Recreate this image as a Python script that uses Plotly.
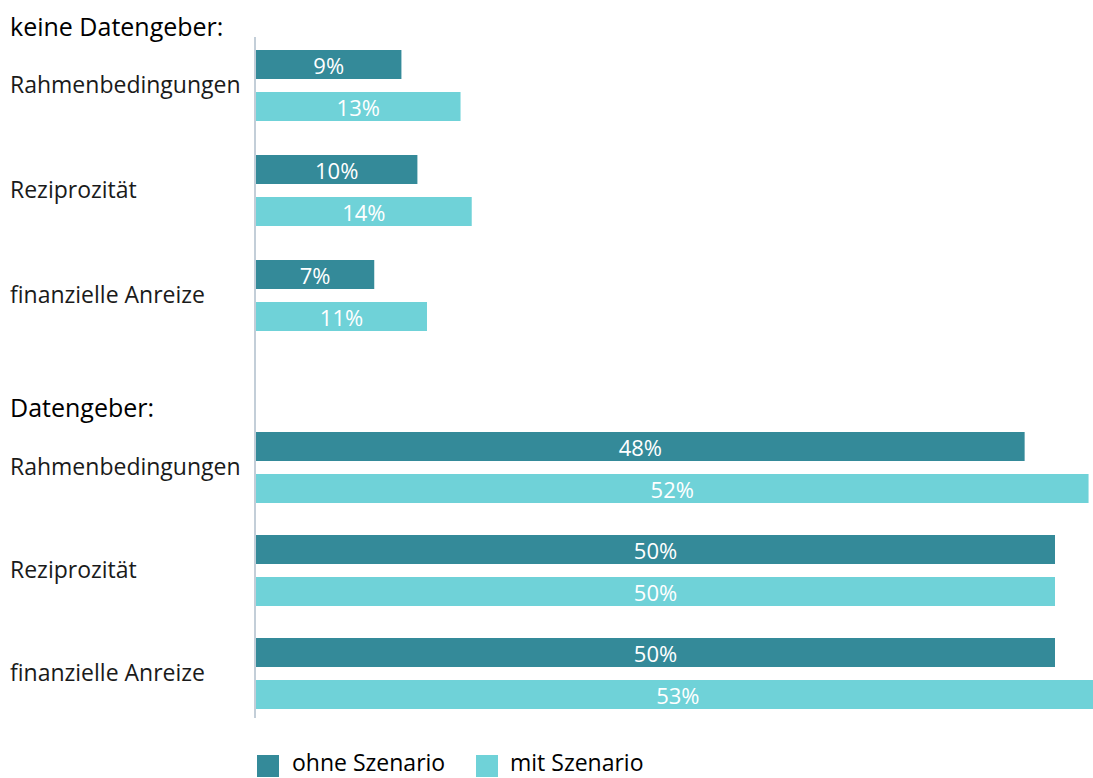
import plotly.graph_objects as go

# ---- data ----
groups = ["keine Datengeber:", "Datengeber:"]
categories = ["Rahmenbedingungen", "Reziprozität", "finanzielle Anreize"]
ohne_szenario = [[9.1, 10.1, 7.4], [48.1, 50.0, 50.0]]
mit_szenario = [[12.8, 13.5, 10.7], [52.1, 50.0, 52.8]]
series_names = ["ohne Szenario", "mit Szenario"]

# ---- layout constants (pixel based) ----
W, H = 1093, 778
ML, MT, MB, MR = 256, 37, 60, 0
PLOT_TOP, PLOT_BOT = MT, H - MB
PLOT_W = W - ML - MR
PX_PER_PCT = 15.98
X_MAX = PLOT_W / PX_PER_PCT

group_start = [85.5, 467.5]
group_step = [105, 103]
header_pos = [26, 407]
bar_off = 21
bar_w = 29

DARK = "#348A99"
LIGHT = "#6FD2D8"
FONT = "Open Sans"
LABEL_SIZE = 23


def ypaper(py):
    return (PLOT_BOT - py) / (PLOT_BOT - PLOT_TOP)


def xpaper(px):
    return (px - ML) / PLOT_W


fig = go.Figure()
for si, (name, vals, col) in enumerate(
        [(series_names[0], ohne_szenario, DARK), (series_names[1], mit_szenario, LIGHT)]):
    xs, ys = [], []
    for gi in range(len(groups)):
        for ci in range(len(categories)):
            center = group_start[gi] + ci * group_step[gi]
            ys.append(center + (-bar_off if si == 0 else bar_off))
            xs.append(vals[gi][ci])
    fig.add_trace(go.Bar(
        x=xs, y=ys, orientation="h", name=name, width=bar_w,
        marker=dict(color=col, line=dict(width=0)),
        texttemplate="%{x:.0f}%", textposition="inside", insidetextanchor="middle",
        textangle=0, constraintext="none",
        textfont=dict(color="white", size=22, family=FONT),
        hoverinfo="skip", showlegend=False, cliponaxis=True,
    ))

annotations = []
for gi, g in enumerate(groups):
    annotations.append(dict(
        text=g, xref="paper", yref="paper", x=0, xshift=-(ML - 8), xanchor="left",
        y=ypaper(header_pos[gi]), yanchor="middle", showarrow=False,
        font=dict(size=25, color="#000000", family=FONT)))
    for ci, c in enumerate(categories):
        center = group_start[gi] + ci * group_step[gi] - 1.5
        annotations.append(dict(
            text=c, xref="paper", yref="paper", x=0, xshift=-(ML - 8), xanchor="left",
            y=ypaper(center), yanchor="middle", showarrow=False,
            font=dict(size=LABEL_SIZE, color="#1a1a1a", family=FONT)))

# manual legend
shapes = []
legend_items = [(series_names[0], DARK, 257, 290), (series_names[1], LIGHT, 476, 508)]
for name, col, sx, tx in legend_items:
    shapes.append(dict(type="rect", xref="paper", yref="paper",
                       x0=xpaper(sx), x1=xpaper(sx + 22), y0=ypaper(777), y1=ypaper(755),
                       fillcolor=col, line=dict(width=0)))
    annotations.append(dict(text=name, xref="paper", yref="paper", x=xpaper(tx), xanchor="left",
                            y=ypaper(762), yanchor="middle", showarrow=False,
                            font=dict(size=LABEL_SIZE, color="#000000", family=FONT)))

fig.update_layout(
    width=W, height=H,
    margin=dict(l=ML, r=MR, t=MT, b=MB, pad=0),
    plot_bgcolor="white", paper_bgcolor="white",
    barmode="overlay",
    xaxis=dict(range=[0, X_MAX], showgrid=False, zeroline=False, showticklabels=False,
               showline=False, fixedrange=True),
    yaxis=dict(range=[PLOT_BOT, PLOT_TOP], showgrid=False, zeroline=False,
               showticklabels=False, showline=True, linecolor="#c3ced8", linewidth=2,
               ticks="", fixedrange=True),
    annotations=annotations, shapes=shapes,
    font=dict(family=FONT),
)

fig.write_html("out.html")
